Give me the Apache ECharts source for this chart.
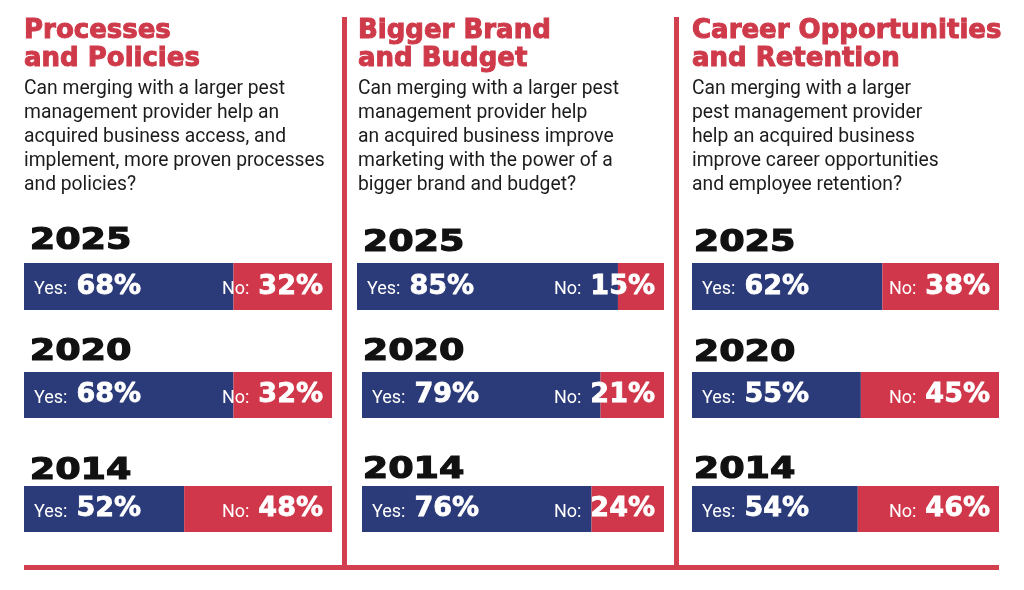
<!DOCTYPE html>
<html>
<head>
<meta charset="utf-8">
<title>Merging with a larger pest management provider</title>
<script src="https://cdn.jsdelivr.net/npm/echarts/dist/echarts.min.js"></script>
<style>
  html, body { margin: 0; padding: 0; background: #fff; }
  #main { width: 1024px; height: 590px; }
</style>
</head>
<body>
<div id="main"></div>
<script>
var years = ['2025', '2020', '2014'];

var headings = ['Processes\nand Policies', 'Bigger Brand\nand Budget', 'Career Opportunities\nand Retention'];
var questions = [
  'Can merging with a larger pest\nmanagement provider help an\nacquired business access, and\nimplement, more proven processes\nand policies?',
  'Can merging with a larger pest\nmanagement provider help\nan acquired business improve\nmarketing with the power of a\nbigger brand and budget?',
  'Can merging with a larger\npest management provider\nhelp an acquired business\nimprove career opportunities\nand employee retention?'
];

var yesProcesses = [68, 68, 52];
var noProcesses = [32, 32, 48];
var yesBrand = [85, 79, 76];
var noBrand = [15, 21, 24];
var yesCareer = [62, 55, 54];
var noCareer = [38, 45, 46];

window.onload = function () {
  initChart();
};

function initChart() {
  var dom = document.getElementById('main');
  var myChart = echarts.init(dom);

  var NAVY = '#2b3a78';
  var RED = '#d1374a';
  var yesData = [yesProcesses, yesBrand, yesCareer];
  var noData = [noProcesses, noBrand, noCareer];

  // left, top, width, height of each bar (panel x row)
  var boxes = [
    [[24, 263, 308, 47], [24, 372, 308, 46], [24, 486, 308, 46]],
    [[357, 263, 307, 47], [362, 372, 302, 46], [362, 486, 302, 46]],
    [[692, 263, 307, 47], [692, 372, 307, 46], [692, 486, 307, 46]]
  ];
  var yearX = [29, 362, 693];
  var yearBase = [[249, 360, 479], [251, 360, 478], [251, 361, 478]];
  var panelX = [24, 358, 692];

  var grids = [], xAxes = [], yAxes = [], series = [], titles = [], graphics = [];

  var valueRich = {
    a: { fontFamily: 'Roboto', fontSize: 18, color: '#fff', padding: [6, 9, 0, 0] },
    b: {
      fontFamily: 'DejaVu Sans', fontWeight: 'bold', fontSize: 27, color: '#fff',
      textBorderColor: '#fff', textBorderWidth: 0.8
    }
  };

  for (var p = 0; p < 3; p++) {
    titles.push({
      text: headings[p],
      subtext: questions[p],
      left: panelX[p],
      top: 17,
      padding: 0,
      itemGap: 4,
      textStyle: {
        fontFamily: 'DejaVu Sans', fontWeight: 'bold', fontSize: 26, lineHeight: 28, color: '#cf3a4a',
        textBorderColor: '#cf3a4a', textBorderWidth: 1
      },
      subtextStyle: { fontFamily: 'Roboto', fontSize: 19.3, lineHeight: 24, color: '#1c1c1c' }
    });

    for (var r = 0; r < years.length; r++) {
      var i = grids.length;
      var b = boxes[p][r];
      grids.push({ left: b[0], top: b[1], width: b[2], height: b[3] });
      xAxes.push({ type: 'value', gridIndex: i, min: 0, max: 100, show: false });
      yAxes.push({ type: 'category', gridIndex: i, data: [years[r]], show: false });

      series.push({
        name: 'Yes',
        type: 'bar',
        stack: 's' + i,
        xAxisIndex: i,
        yAxisIndex: i,
        barWidth: '100%',
        silent: true,
        itemStyle: { color: NAVY },
        label: {
          show: true,
          position: 'insideLeft',
          distance: 10,
          formatter: function (d) { return '{a|Yes:}{b|' + d.value + '%}'; },
          rich: valueRich
        },
        data: [yesData[p][r]]
      });
      series.push({
        name: 'No',
        type: 'bar',
        stack: 's' + i,
        xAxisIndex: i,
        yAxisIndex: i,
        barWidth: '100%',
        silent: true,
        itemStyle: { color: RED },
        label: {
          show: true,
          position: 'insideRight',
          distance: 9,
          formatter: function (d) { return '{a|No:}{b|' + d.value + '%}'; },
          rich: valueRich
        },
        data: [noData[p][r]]
      });

      graphics.push({
        type: 'text',
        left: yearX[p],
        top: yearBase[p][r] - 24,
        scaleX: 1.18,
        style: {
          text: years[r],
          fontFamily: 'DejaVu Sans',
          fontWeight: 'bold',
          fontSize: 31,
          fill: '#111',
          stroke: '#111',
          lineWidth: 1.2
        }
      });
    }
  }

  // red rules between the panels and along the bottom
  graphics.push({ type: 'rect', shape: { x: 342, y: 17, width: 5, height: 552 }, style: { fill: '#d2404f' } });
  graphics.push({ type: 'rect', shape: { x: 674, y: 17, width: 5, height: 552 }, style: { fill: '#d2404f' } });
  graphics.push({ type: 'rect', shape: { x: 24, y: 565, width: 975, height: 5 }, style: { fill: '#d2404f' } });

  var option = {
    backgroundColor: '#fff',
    animation: false,
    title: titles,
    grid: grids,
    xAxis: xAxes,
    yAxis: yAxes,
    graphic: graphics,
    series: series
  };

  if (option && typeof option === 'object') {
    myChart.setOption(option, true);
  }
}
</script>
</body>
</html>
